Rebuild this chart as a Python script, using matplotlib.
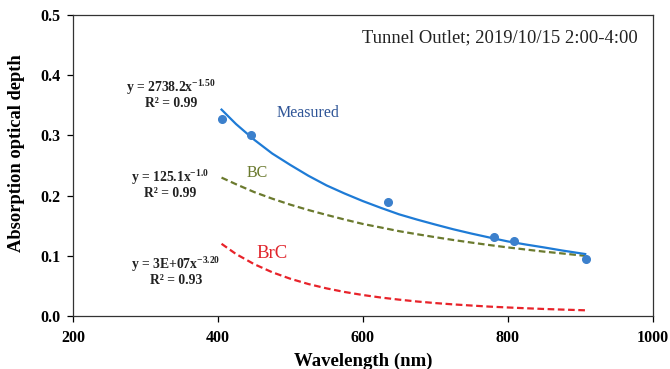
import matplotlib
matplotlib.use("Agg")
import matplotlib.pyplot as plt

plt.rcParams['font.family'] = ['Liberation Serif', 'DejaVu Serif']
plt.rcParams['mathtext.fontset'] = 'custom'
plt.rcParams['mathtext.rm'] = 'Liberation Serif'
plt.rcParams['mathtext.bf'] = 'Liberation Serif:bold'
plt.rcParams['mathtext.it'] = 'Liberation Serif:italic'

# Measured absorption optical depth points
meas_wl = [406, 446, 635, 781, 809, 908]
meas_aod = [0.328, 0.300, 0.190, 0.131, 0.125, 0.094]

# Fitted curves, values
curve_wl = [405, 425, 450, 475, 500, 525, 550, 575, 600, 625, 650, 675, 700,
            725, 750, 775, 800, 825, 850, 875, 907]
fit_measured = [0.343, 0.319, 0.293, 0.270, 0.251, 0.233, 0.217, 0.2035, 0.191, 0.1797,
                0.169, 0.1602, 0.152, 0.1441, 0.137, 0.1304, 0.124, 0.1188, 0.114, 0.1089, 0.103]
fit_bc = [0.230, 0.219, 0.206, 0.195, 0.185, 0.1761, 0.168, 0.1603, 0.153, 0.1471,
          0.141, 0.1359, 0.131, 0.1263, 0.122, 0.1179, 0.114, 0.1105, 0.107, 0.104, 0.100]
fit_brc = [0.120, 0.103, 0.0862, 0.0727, 0.0619, 0.0531, 0.0459, 0.0399, 0.0349, 0.0307,
           0.0272, 0.0241, 0.0215, 0.0193, 0.0174, 0.0156, 0.0142, 0.0129, 0.0117, 0.0107, 0.0095]

xticks = [200, 400, 600, 800, 1000]
yticks = [0.0, 0.1, 0.2, 0.3, 0.4, 0.5]

fig = plt.figure(figsize=(6.70, 3.69), dpi=100)
ax = fig.add_axes([0.109, 0.1436, 0.865, 0.8154])

ax.plot(curve_wl, fit_measured, color='#1E7BD6', lw=1.6, zorder=3)
ax.plot(curve_wl, fit_bc, color='#6B7A2E', lw=1.6, ls=(0, (3, 1.6)), zorder=2)
ax.plot(curve_wl, fit_brc, color='#E8232A', lw=1.6, ls=(0, (3, 1.6)), zorder=2)
ax.plot(meas_wl, meas_aod, 'o', color='#3C80CC', ms=5.5, zorder=4)

ax.set_xlim(200, 1000)
ax.set_ylim(0, 0.5)
ax.set_xticks(xticks)
ax.set_yticks(yticks)
ax.set_xticklabels([str(v) for v in xticks], fontweight='bold', fontsize=11.5)
ax.set_yticklabels([f'{v:.1f}' for v in yticks], fontweight='bold', fontsize=11.5)
ax.tick_params(direction='out', length=4, width=0.9)
ax.tick_params(axis='x', pad=6)
ax.tick_params(axis='y', pad=5)
for s in ax.spines.values():
    s.set_linewidth(0.9)
    s.set_color('#333333')

ax.set_xlabel('Wavelength (nm)', fontweight='bold', fontsize=13.5, labelpad=5)
ax.set_ylabel('Absorption optical depth', fontweight='bold', fontsize=13.3)
ax.yaxis.set_label_coords(-0.083, 0.542)

ax.text(0.975, 0.925, 'Tunnel Outlet; 2019/10/15 2:00-4:00', transform=ax.transAxes,
        ha='right', va='center', fontsize=13.4, color='#222222')

def px(xp, yp):
    return ((xp - 73) / 579.7, (316 - yp) / 301)

eqs = [
    (171, 87, r'y = 2738.2x$^{\mathbf{-1.50}}$'),
    (171, 103, r'R² = 0.99'),
    (170, 177, r'y = 125.1x$^{\mathbf{-1.0}}$'),
    (170, 193, r'R² = 0.99'),
    (176, 265, r'y = 3E+07x$^{\mathbf{-3.20}}$'),
    (176, 280, r'R² = 0.93'),
]
for xp, yp, t in eqs:
    xa, ya = px(xp, yp)
    ax.text(xa, ya, t, transform=ax.transAxes, ha='center', va='center',
            fontsize=9.8, fontweight='bold', color='#222222')

labels = [(308, 113, 'Measured', '#2F5597', 11.5), (257, 173, 'BC', '#6B7A2E', 11.5),
          (272, 253, 'BrC', '#E0242B', 13.5)]
for xp, yp, t, c, fs in labels:
    xa, ya = px(xp, yp)
    ax.text(xa, ya, t, transform=ax.transAxes, ha='center', va='center', fontsize=fs, color=c)

fig.savefig('out.png', dpi=100)
